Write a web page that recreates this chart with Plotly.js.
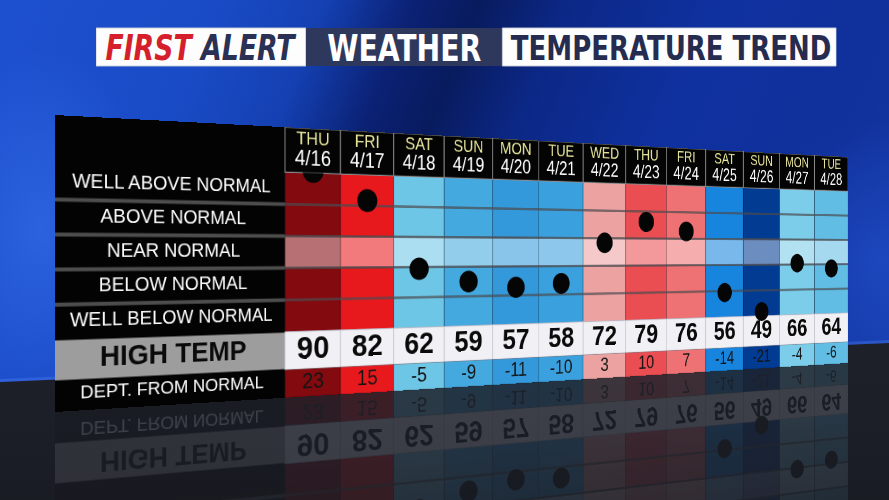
<!DOCTYPE html>
<html>
<head>
<meta charset="utf-8">
<script src="https://cdn.plot.ly/plotly-3.0.1.min.js"></script>
<style>
html,body{margin:0;padding:0;}
body{width:889px;height:500px;overflow:hidden;position:relative;background:#0d2c98;}
#wall{position:absolute;left:0;top:0;width:889px;height:500px;
  background:
    radial-gradient(ellipse 160px 260px at 40px 230px, rgba(70,130,255,0.40), rgba(70,130,255,0) 70%),
    radial-gradient(ellipse 200px 200px at 880px 260px, rgba(40,90,220,0.45), rgba(40,90,220,0) 70%),
    linear-gradient(112deg, #1d50cf 0%, #1a4bc6 20%, #1440b2 30%, #0b2174 38%, #081b5e 44%, #0c2886 52%, #0f31a0 66%, #10309a 82%, #1740b0 100%);}
#floor{position:absolute;left:0;top:0;width:889px;height:500px;
  clip-path:polygon(0 382px, 889px 343px, 889px 500px, 0 500px);
  background:linear-gradient(to bottom, #22252e 0%, #1d2029 75%, #1a1c24 100%);}
#floorline{position:absolute;left:0;top:0;width:889px;height:500px;
  clip-path:polygon(0 379px, 889px 340px, 889px 343px, 0 382px);
  background:rgba(90,140,255,0.30);}
#table,#mirror{position:absolute;left:0;top:0;transform-origin:0 0;}
#mirror{opacity:0.15;
  -webkit-mask-image:linear-gradient(to bottom, rgba(0,0,0,0.3) 0%, #000 75%);
  mask-image:linear-gradient(to bottom, rgba(0,0,0,0.3) 0%, #000 75%);}
#banner{position:absolute;left:96px;top:20px;transform-origin:0 0;transform:scaleX(0.85);}
</style>
</head>
<body>
<div id="wall"></div>
<div id="floor"></div>
<div id="floorline"></div>
<div id="mirror"></div>
<div id="table"></div>
<div id="banner"></div>
<script>
// ---------- data ----------
const days = ['THU','FRI','SAT','SUN','MON','TUE','WED','THU','FRI','SAT','SUN','MON','TUE'];
const dates = ['4/16','4/17','4/18','4/19','4/20','4/21','4/22','4/23','4/24','4/25','4/26','4/27','4/28'];
const highTemps = [90,82,62,59,57,58,72,79,76,56,49,66,64];
const departures = [23,15,-5,-9,-11,-10,3,10,7,-14,-21,-4,-6];
const rowLabels = ['WELL ABOVE NORMAL','ABOVE NORMAL','NEAR NORMAL','BELOW NORMAL','WELL BELOW NORMAL'];
const highLabel = 'HIGH TEMP';
const deptLabel = 'DEPT. FROM NORMAL';
const titleParts = ['FIRST', 'ALERT', 'WEATHER', 'TEMPERATURE TREND'];

// ---------- styles ----------
const columnColors = ['#830a0f','#e8191d','#6ec6e6','#43a9df','#3399db','#3ba1de','#eda2a2','#ea4d52','#ee7273','#1784dd','#023b92','#7bcde9','#62bde5'];
function lighten(hex, t){
  const n = parseInt(hex.slice(1),16);
  const r=(n>>16)&255,g=(n>>8)&255,b=n&255;
  const f=v=>Math.round(v+(255-v)*t);
  return 'rgb('+f(r)+','+f(g)+','+f(b)+')';
}
const nearColors = columnColors.map(c=>lighten(c,0.42));
const FONT = 'Liberation Sans, Arial, sans-serif';
const BFONT = 'DejaVu Sans Condensed, Liberation Sans Narrow, Arial Narrow, sans-serif';

// ---------- table geometry (flat, before perspective) ----------
const W = 1144, H = 297;
const PANEL = 3.684;              // label panel width in column units
const GRID_TOP = 22.5, GRID_BOT = -22.5, ROW = 9;
const HEAD_TOP = 35.14, HI_BOT = -33.17, DEPT_BOT = -41.02;
const n = days.length;
const xs = days.map((d,i)=>i+0.5);
const rowY = rowLabels.map((r,i)=>GRID_TOP - ROW/2 - i*ROW);

function tableFigure(isMirror){
  const tr = [];
  const skip = {hoverinfo:'skip', showlegend:false};
  // label panel
  tr.push(Object.assign({type:'bar', x:[-PANEL/2], y:[HEAD_TOP-DEPT_BOT], base:[DEPT_BOT], width:[PANEL],
    marker:{color:'#030303', line:{width:0}}}, skip));
  tr.push(Object.assign({type:'bar', x:[-PANEL/2], y:[GRID_BOT-HI_BOT-0.4], base:[HI_BOT+0.2], width:[PANEL],
    marker:{color:'#9d9d9d', line:{width:0}}}, skip));
  // grid columns
  tr.push(Object.assign({type:'bar', x:xs, y:xs.map(()=>GRID_TOP-GRID_BOT), base:GRID_BOT, width:1,
    marker:{color:columnColors, line:{color:'rgba(0,0,0,0.35)', width:1}}}, skip));
  tr.push(Object.assign({type:'bar', x:xs, y:xs.map(()=>ROW), base:-ROW/2, width:1,
    marker:{color:nearColors, line:{color:'rgba(0,0,0,0.3)', width:1}}}, skip));
  // header
  tr.push(Object.assign({type:'bar', x:xs, y:xs.map(()=>HEAD_TOP-GRID_TOP), base:GRID_TOP, width:1,
    marker:{color:'#040404', line:{color:'#8c8c8c', width:1.2}}}, skip));
  // high temp row
  tr.push(Object.assign({type:'bar', x:xs, y:xs.map(()=>GRID_BOT-HI_BOT), base:HI_BOT, width:1,
    marker:{color:'#f1f0f4', line:{color:'#c6c6d2', width:1}}}, skip));
  // departure row
  tr.push(Object.assign({type:'bar', x:xs, y:xs.map(()=>HI_BOT-DEPT_BOT), base:DEPT_BOT, width:1,
    marker:{color:columnColors, line:{color:'rgba(0,0,0,0.25)', width:1}}}, skip));
  // row separators
  const sepX=[], sepY=[], gX=[], gY=[];
  for(let i=1;i<rowLabels.length;i++){
    const y = GRID_TOP - i*ROW;
    sepX.push(-PANEL, 0, null); sepY.push(y, y, null);
    gX.push(0, n, null); gY.push(y, y, null);
  }
  tr.push(Object.assign({type:'scatter', mode:'lines', x:sepX, y:sepY, line:{color:'#4d4d4d', width:4}}, skip));
  tr.push(Object.assign({type:'scatter', mode:'lines', x:gX, y:gY, line:{color:'rgba(75,75,80,0.7)', width:3}}, skip));
  // texts
  const txt = (x,y,text,size,color)=>Object.assign({type:'scatter', mode:'text', x:x, y:y, text:text,
    textposition:'middle center', cliponaxis:false, textfont:{family:FONT, size:size, color:color}}, skip);
  if(!isMirror){
    tr.push(txt(rowLabels.map(()=>-PANEL/2), rowY, rowLabels, 20, '#ffffff'));
    tr.push(txt(xs, xs.map(()=>GRID_TOP+(HEAD_TOP-GRID_TOP)*0.73), days, 20, '#ecea9e'));
    tr.push(txt(xs, xs.map(()=>GRID_TOP+(HEAD_TOP-GRID_TOP)*0.29), dates, 23, '#ffffff'));
  }
  tr.push(txt([-PANEL/2], [(GRID_BOT+HI_BOT)/2], ['<b>'+highLabel+'</b>'], 29, '#0a0a0a'));
  tr.push(txt([-PANEL/2], [(HI_BOT+DEPT_BOT)/2+0.3], [deptLabel], 19, '#ffffff'));
  tr.push(txt(xs, xs.map(()=>(GRID_BOT+HI_BOT)/2), highTemps.map(v=>'<b>'+v+'</b>'), 36, '#0a0a0a'));
  tr.push(txt(xs, xs.map(()=>(HI_BOT+DEPT_BOT)/2), departures.map(v=>String(v)), 24, '#141414'));
  // departure dots (inset subplot clipped at grid top)
  tr.push(Object.assign({type:'scatter', mode:'markers', x:xs, y:departures, xaxis:'x2', yaxis:'y2',
    cliponaxis:true, marker:{size:26, color:'#050505', line:{width:0}}}, skip));
  const layout = {
    width:W, height:H, margin:{l:0,r:0,t:0,b:0,pad:0}, showlegend:false, barmode:'overlay',
    paper_bgcolor:'rgba(0,0,0,0)', plot_bgcolor:'rgba(0,0,0,0)',
    xaxis:{range:[-PANEL, n], visible:false, domain:[0,1]},
    yaxis:{range:[DEPT_BOT, HEAD_TOP], visible:false, domain:[0,1]},
    xaxis2:{range:[-PANEL, n], visible:false, domain:[0,1], anchor:'y2'},
    yaxis2:{range:[DEPT_BOT, GRID_TOP], visible:false, anchor:'x2',
      domain:[0,(GRID_TOP-DEPT_BOT)/(HEAD_TOP-DEPT_BOT)]}
  };
  return {data:tr, layout:layout};
}

function homography(w,h,p){ // p: TL, TR, BR, BL screen points
  const [x0,y0]=p[0],[x1,y1]=p[1],[x2,y2]=p[2],[x3,y3]=p[3];
  const sx=x0-x1+x2-x3, sy=y0-y1+y2-y3;
  const dx1=x1-x2, dx2=x3-x2, dy1=y1-y2, dy2=y3-y2;
  const den=dx1*dy2-dx2*dy1;
  const g=(sx*dy2-dx2*sy)/den, hh=(dx1*sy-sx*dy1)/den;
  const a=x1-x0+g*x1, b=x3-x0+hh*x3, c=x0;
  const d=y1-y0+g*y1, e=y3-y0+hh*y3, f=y0;
  return 'matrix3d('+[a/w,d/w,0,g/w, b/h,e/h,0,hh/h, 0,0,1,0, c,f,0,1].join(',')+')';
}

const cfg = {staticPlot:true, displayModeBar:false, responsive:false};
const f1 = tableFigure(false), f2 = tableFigure(true);
Plotly.newPlot('table', f1.data, f1.layout, cfg).then(()=>{
  document.getElementById('table').style.transform =
    homography(W,H,[[55,115],[848,157],[848,363],[55,412]]);
});
Plotly.newPlot('mirror', f2.data, f2.layout, cfg).then(()=>{
  document.getElementById('mirror').style.transform =
    homography(W,H,[[55,709],[848,569],[848,363],[55,412]]);
});

// ---------- banner ----------
const BW = 871, BH = 54, B0 = 8, B1 = 46;
const bannerLayout = {
  width:BW, height:BH, margin:{l:0,r:0,t:0,b:0,pad:0},
  paper_bgcolor:'rgba(0,0,0,0)', plot_bgcolor:'rgba(0,0,0,0)', showlegend:false,
  xaxis:{range:[0,BW], visible:false}, yaxis:{range:[BH,0], visible:false},
  shapes:[
    {type:'rect', xref:'x', yref:'y', x0:0, x1:247, y0:B0, y1:B1, fillcolor:'#fdfdfd', line:{width:1, color:'#c8ccd8'}},
    {type:'rect', xref:'x', yref:'y', x0:247, x1:477, y0:B0, y1:B1, fillcolor:'#2e385c', line:{width:0}},
    {type:'rect', xref:'x', yref:'y', x0:478, x1:BW, y0:B0, y1:B1, fillcolor:'#fdfdfd', line:{width:1, color:'#c8ccd8'}}
  ],
  annotations:[
    {x:123, y:28, xref:'x', yref:'y', showarrow:false,
     text:'<b><i><span style="color:#d51f2b">'+titleParts[0]+'</span> '+titleParts[1]+'</i></b>',
     font:{family:BFONT, size:35, color:'#2b3154'}},
    {x:362, y:28, xref:'x', yref:'y', showarrow:false, text:'<b>'+titleParts[2]+'</b>',
     font:{family:BFONT, size:37, color:'#ffffff'}},
    {x:676, y:28, xref:'x', yref:'y', showarrow:false, text:'<b>'+titleParts[3]+'</b>',
     font:{family:BFONT, size:34, color:'#262c4f'}}
  ]
};
Plotly.newPlot('banner', [], bannerLayout, cfg);
</script>
</body>
</html>
